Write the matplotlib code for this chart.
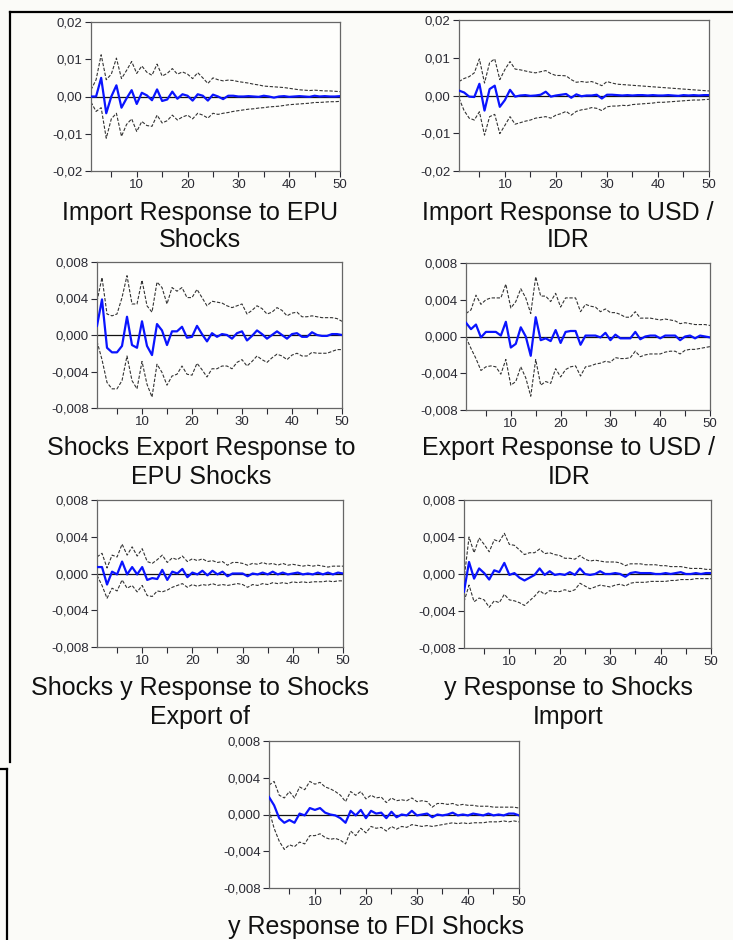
import matplotlib
matplotlib.use("Agg")
import matplotlib.pyplot as plt
from matplotlib.lines import Line2D
from matplotlib.ticker import FuncFormatter
import numpy as np

plt.rcParams['font.family'] = ['Liberation Sans', 'DejaVu Sans']

periods = np.arange(1, 51)

# --- Import response to EPU shocks
imp_epu_resp = [0, 0, 0.005, -0.0045, 0.0, 0.003, -0.003, -0.0005, 0.0017, -0.002,
                0.001, 0.0003, -0.001, 0.0019, -0.0012, -0.0008, 0.0013, -0.0006, 0.0006, 0.0002,
                -0.0011, 0.0006, 0.0002, -0.0011, 0.0005, 0.0, -0.0007, 0.0002, 0.0002, 0.0,
                0, 0.0001, 0, -0.0001, 0.0002, 0, -0.0003, 0, 0.0001, -0.0001,
                0, 0.0001, 0, -0.0001, 0.0002, 0, 0.0001, 0, 0, 0.0001]
imp_epu_up = [0.0018, 0.0045, 0.0112, 0.0045, 0.0060, 0.0103, 0.0048, 0.0070, 0.0094, 0.0062,
              0.0082, 0.0065, 0.0057, 0.0087, 0.0055, 0.0062, 0.0075, 0.0060, 0.0066, 0.0060,
              0.0048, 0.0064, 0.0050, 0.0035, 0.0050, 0.0045, 0.0042, 0.0044, 0.0043, 0.0040,
              0.0038, 0.0036, 0.0033, 0.0031, 0.0028, 0.0027, 0.0026, 0.0025, 0.0024, 0.0022,
              0.0020, 0.0018, 0.0017, 0.0016, 0.0017, 0.0016, 0.0015, 0.0015, 0.0014, 0.0013]
imp_epu_lo = [-0.0015, -0.0040, -0.0030, -0.0112, -0.0060, -0.0045, -0.0107, -0.0075, -0.0060, -0.0094,
              -0.0067, -0.0078, -0.0080, -0.0050, -0.0071, -0.0065, -0.0050, -0.0063, -0.0055, -0.0050,
              -0.0060, -0.0045, -0.0050, -0.0058, -0.0045, -0.0048, -0.0045, -0.0043, -0.0040, -0.0038,
              -0.0036, -0.0034, -0.0033, -0.0031, -0.0030, -0.0028, -0.0027, -0.0026, -0.0024, -0.0022,
              -0.0021, -0.0020, -0.0019, -0.0018, -0.0016, -0.0016, -0.0015, -0.0014, -0.0014, -0.0013]

# --- Import response to USD / IDR
imp_usd_resp = [0.0013, 0.0008, -0.0003, -0.0004, 0.0031, -0.0040, 0.0017, 0.0026, -0.0030, -0.0012,
                0.0015, -0.0003, 0.0, 0.0001, -0.0001, 0.0, 0.0002, 0.0010, -0.0003, 0.0,
                0.0002, 0.0004, -0.0006, 0.0003, -0.0002, 0.0, 0.0, 0.0002, -0.0008, 0.0002,
                0.0002, 0.0001, 0.0, 0.0001, 0.0, 0.0001, 0.0001, 0.0, 0.0001, 0.0,
                0.0, 0.0001, 0.0, -0.0001, 0.0001, 0.0, 0.0001, 0.0, 0.0001, 0.0001]
imp_usd_up = [0.0037, 0.0045, 0.0050, 0.0060, 0.0097, 0.0033, 0.0087, 0.0097, 0.0042, 0.0069,
              0.0090, 0.0070, 0.0068, 0.0065, 0.0062, 0.0060, 0.0063, 0.0066, 0.0058, 0.0053,
              0.0053, 0.0052, 0.0042, 0.0035, 0.0037, 0.0035, 0.0037, 0.0032, 0.0026, 0.0037,
              0.0033, 0.0030, 0.0029, 0.0028, 0.0027, 0.0026, 0.0025, 0.0024, 0.0023, 0.0022,
              0.0021, 0.0020, 0.0019, 0.0018, 0.0017, 0.0016, 0.0015, 0.0014, 0.0013, 0.0012]
imp_usd_lo = [-0.0007, -0.0040, -0.0060, -0.0065, -0.0043, -0.0105, -0.0056, -0.0050, -0.0101, -0.0079,
              -0.0056, -0.0076, -0.0072, -0.0068, -0.0065, -0.0060, -0.0058, -0.0056, -0.0060, -0.0052,
              -0.0048, -0.0042, -0.0052, -0.0042, -0.0038, -0.0036, -0.0032, -0.0034, -0.0040, -0.0030,
              -0.0028, -0.0028, -0.0026, -0.0027, -0.0024, -0.0023, -0.0022, -0.0021, -0.0020, -0.0018,
              -0.0018, -0.0017, -0.0016, -0.0015, -0.0014, -0.0013, -0.0012, -0.0012, -0.0011, -0.0010]

# --- Export response to EPU shocks
exp_epu_resp = [0.0010, 0.0039, -0.0014, -0.0019, -0.0019, -0.0012, 0.0020, -0.0011, -0.0014, 0.0015,
                -0.0012, -0.0022, 0.0012, 0.0005, -0.0011, 0.0004, 0.0004, 0.0009, -0.0003, -0.0002,
                0.0010, 0.0001, -0.0007, 0.0002, -0.0002, 0.0001, 0.0, -0.0004, 0.0002, 0.0004,
                -0.0006, -0.0001, 0.0005, 0.0001, -0.0004, 0.0, 0.0004, 0.0, -0.0004, 0.0001,
                0.0002, -0.0002, -0.0002, 0.0003, 0.0, -0.0001, -0.0001, 0.0001, 0.0001, 0.0]
exp_epu_up = [0.0037, 0.0063, 0.0023, 0.0021, 0.0023, 0.0041, 0.0065, 0.0034, 0.0034, 0.0060,
              0.0032, 0.0025, 0.0058, 0.0052, 0.0034, 0.0052, 0.0048, 0.0052, 0.0041, 0.0041,
              0.0050, 0.0041, 0.0032, 0.0037, 0.0036, 0.0035, 0.0032, 0.0030, 0.0032, 0.0034,
              0.0023, 0.0027, 0.0032, 0.0029, 0.0023, 0.0025, 0.0030, 0.0027, 0.0021, 0.0024,
              0.0025, 0.0020, 0.0020, 0.0021, 0.0020, 0.0019, 0.0019, 0.0019, 0.0018, 0.0015]
exp_epu_lo = [-0.0007, -0.0027, -0.0052, -0.0059, -0.0059, -0.0050, -0.0023, -0.0050, -0.0059, -0.0029,
              -0.0054, -0.0068, -0.0032, -0.0041, -0.0055, -0.0045, -0.0043, -0.0034, -0.0043, -0.0044,
              -0.0031, -0.0038, -0.0046, -0.0037, -0.0037, -0.0034, -0.0034, -0.0037, -0.0030, -0.0027,
              -0.0034, -0.0029, -0.0023, -0.0027, -0.0030, -0.0025, -0.0021, -0.0023, -0.0027, -0.0022,
              -0.0020, -0.0023, -0.0023, -0.0019, -0.0020, -0.0020, -0.0020, -0.0018, -0.0016, -0.0016]

# --- Export response to USD / IDR
exp_usd_resp = [0.0015, 0.0008, 0.0013, -0.0001, 0.0005, 0.0005, 0.0005, 0.0001, 0.0016, -0.0012,
                -0.0008, 0.0010, 0.0, -0.0021, 0.0021, -0.0004, -0.0002, -0.0005, 0.0007, -0.0007,
                0.0005, 0.0006, 0.0006, -0.0009, 0.0001, 0.0001, 0.0001, -0.0001, 0.0004, -0.0004,
                0.0002, -0.0002, -0.0002, -0.0002, 0.0005, -0.0003, 0.0, 0.0001, 0.0001, -0.0002,
                0.0001, 0.0001, 0.0001, -0.0004, 0.0, 0.0001, -0.0002, 0.0001, 0.0, -0.0001]
exp_usd_up = [0.0025, 0.0029, 0.0045, 0.0035, 0.0040, 0.0042, 0.0042, 0.0042, 0.0057, 0.0031,
              0.0038, 0.0052, 0.0042, 0.0025, 0.0065, 0.0044, 0.0044, 0.0038, 0.0047, 0.0032,
              0.0042, 0.0042, 0.0042, 0.0027, 0.0035, 0.0033, 0.0032, 0.0027, 0.0030, 0.0026,
              0.0026, 0.0024, 0.0021, 0.0021, 0.0027, 0.0020, 0.0020, 0.0020, 0.0019, 0.0018,
              0.0019, 0.0018, 0.0017, 0.0014, 0.0015, 0.0014, 0.0013, 0.0013, 0.0013, 0.0012]
exp_usd_lo = [-0.0001, -0.0013, -0.0024, -0.0037, -0.0033, -0.0032, -0.0033, -0.0041, -0.0025, -0.0053,
              -0.0049, -0.0033, -0.0045, -0.0065, -0.0025, -0.0053, -0.0049, -0.0051, -0.0035, -0.0044,
              -0.0036, -0.0033, -0.0032, -0.0043, -0.0033, -0.0032, -0.0030, -0.0029, -0.0027, -0.0028,
              -0.0023, -0.0024, -0.0024, -0.0023, -0.0016, -0.0022, -0.0020, -0.0019, -0.0019, -0.0019,
              -0.0017, -0.0016, -0.0016, -0.0019, -0.0015, -0.0014, -0.0014, -0.0013, -0.0012, -0.0011]

# --- y response to export shocks
y_exp_resp = [0.0007, 0.0007, -0.0012, 0.0002, -0.0001, 0.0013, -0.0001, 0.0007, -0.0001, 0.0007,
              -0.0007, -0.0005, -0.0006, 0.0004, -0.0007, 0.0002, 0.0, 0.0005, -0.0004, 0.0001,
              -0.0001, 0.0003, -0.0002, 0.0003, -0.0001, 0.0002, -0.0003, 0.0, 0.0, 0.0,
              -0.0003, 0.0, -0.0001, 0.0001, -0.0001, 0.0002, -0.0001, 0.0001, -0.0001, 0.0,
              0.0001, -0.0001, 0.0, -0.0001, 0.0001, -0.0001, 0.0001, -0.0001, 0.0001, 0.0]
y_exp_up = [0.0018, 0.0022, 0.0006, 0.0020, 0.0018, 0.0032, 0.0020, 0.0029, 0.0019, 0.0027,
            0.0013, 0.0011, 0.0015, 0.0020, 0.0012, 0.0017, 0.0015, 0.0019, 0.0013, 0.0016,
            0.0014, 0.0016, 0.0013, 0.0014, 0.0012, 0.0013, 0.0009, 0.0012, 0.0012, 0.0011,
            0.0009, 0.0011, 0.0010, 0.0012, 0.0010, 0.0011, 0.0009, 0.0011, 0.0009, 0.0010,
            0.0009, 0.0008, 0.0009, 0.0008, 0.0009, 0.0008, 0.0007, 0.0008, 0.0008, 0.0008]
y_exp_lo = [-0.0002, -0.0013, -0.0027, -0.0016, -0.0019, -0.0007, -0.0016, -0.0013, -0.0020, -0.0013,
            -0.0024, -0.0025, -0.0019, -0.0020, -0.0018, -0.0015, -0.0013, -0.0011, -0.0015, -0.0012,
            -0.0014, -0.0012, -0.0013, -0.0011, -0.0013, -0.0012, -0.0013, -0.0012, -0.0011, -0.0012,
            -0.0015, -0.0012, -0.0013, -0.0011, -0.0012, -0.0010, -0.0011, -0.0010, -0.0011, -0.0009,
            -0.0010, -0.0009, -0.0010, -0.0009, -0.0009, -0.0009, -0.0008, -0.0009, -0.0008, -0.0008]

# --- y response to import shocks
y_imp_resp = [-0.0019, 0.0013, -0.0005, 0.0006, 0.0001, -0.0006, 0.0004, 0.0002, 0.0012, -0.0001,
              0.0001, -0.0004, -0.0007, -0.0004, -0.0001, 0.0006, -0.0001, 0.0003, -0.0001, 0.0,
              -0.0001, 0.0002, -0.0001, 0.0006, 0.0, -0.0001, 0.0, 0.0003, 0.0, 0.0,
              0.0001, 0.0, -0.0003, 0.0001, 0.0002, 0.0001, 0.0001, 0.0001, 0.0, 0.0,
              0.0001, 0.0, 0.0001, 0.0002, 0.0, 0.0, 0.0001, 0.0, 0.0001, 0.0001]
y_imp_up = [-0.0006, 0.0040, 0.0023, 0.0039, 0.0032, 0.0024, 0.0037, 0.0035, 0.0044, 0.0032,
            0.0031, 0.0026, 0.0021, 0.0023, 0.0023, 0.0027, 0.0022, 0.0023, 0.0021, 0.0020,
            0.0017, 0.0017, 0.0016, 0.0020, 0.0016, 0.0014, 0.0015, 0.0014, 0.0013, 0.0013,
            0.0013, 0.0012, 0.0009, 0.0011, 0.0011, 0.0011, 0.0010, 0.0010, 0.0010, 0.0009,
            0.0009, 0.0008, 0.0008, 0.0008, 0.0007, 0.0006, 0.0006, 0.0006, 0.0005, 0.0005]
y_imp_lo = [-0.0030, -0.0012, -0.0030, -0.0026, -0.0028, -0.0036, -0.0029, -0.0031, -0.0022, -0.0028,
            -0.0029, -0.0031, -0.0034, -0.0029, -0.0024, -0.0018, -0.0022, -0.0018, -0.0019, -0.0019,
            -0.0017, -0.0019, -0.0017, -0.0010, -0.0013, -0.0016, -0.0014, -0.0012, -0.0013, -0.0014,
            -0.0012, -0.0011, -0.0013, -0.0010, -0.0009, -0.0009, -0.0009, -0.0008, -0.0008, -0.0008,
            -0.0008, -0.0007, -0.0007, -0.0006, -0.0006, -0.0006, -0.0005, -0.0005, -0.0005, -0.0005]

# --- y response to FDI shocks
y_fdi_resp = [0.0019, 0.0010, -0.0004, -0.0009, -0.0006, -0.0009, 0.0001, -0.0001, 0.0007, 0.0005,
              0.0007, 0.0002, 0.0, -0.0001, -0.0004, -0.0009, 0.0004, -0.0001, 0.0005, -0.0004,
              0.0004, 0.0001, 0.0002, -0.0004, 0.0003, -0.0003, 0.0, -0.0001, 0.0004, -0.0001,
              0.0, 0.0001, -0.0003, 0.0, -0.0001, 0.0, 0.0002, -0.0001, 0.0, -0.0001,
              0.0001, 0.0, -0.0001, 0.0001, -0.0001, 0.0, -0.0001, 0.0001, 0.0001, -0.0001]
y_fdi_up = [0.0032, 0.0036, 0.0021, 0.0018, 0.0025, 0.0018, 0.0030, 0.0027, 0.0036, 0.0033,
            0.0035, 0.0030, 0.0028, 0.0025, 0.0021, 0.0014, 0.0025, 0.0021, 0.0025, 0.0017,
            0.0021, 0.0018, 0.0019, 0.0013, 0.0018, 0.0015, 0.0016, 0.0015, 0.0018, 0.0014,
            0.0015, 0.0014, 0.0008, 0.0012, 0.0012, 0.0011, 0.0012, 0.0010, 0.0011, 0.0010,
            0.0010, 0.0009, 0.0009, 0.0009, 0.0008, 0.0008, 0.0008, 0.0008, 0.0008, 0.0007]
y_fdi_lo = [0.0005, -0.0015, -0.0029, -0.0038, -0.0033, -0.0035, -0.0030, -0.0032, -0.0023, -0.0023,
            -0.0021, -0.0025, -0.0027, -0.0026, -0.0028, -0.0032, -0.0018, -0.0023, -0.0015, -0.0020,
            -0.0013, -0.0015, -0.0014, -0.0018, -0.0013, -0.0016, -0.0013, -0.0014, -0.0011, -0.0012,
            -0.0013, -0.0012, -0.0013, -0.0012, -0.0011, -0.0010, -0.0009, -0.0010, -0.0009, -0.0010,
            -0.0009, -0.0009, -0.0009, -0.0008, -0.0008, -0.0008, -0.0007, -0.0008, -0.0007, -0.0008]

titles = [["Import Response to EPU", "Shocks"],
          ["Import Response to USD /", "IDR"],
          ["Shocks Export Response to", "EPU Shocks"],
          ["Export Response to USD /", "IDR"],
          ["Shocks y Response to Shocks", "Export of"],
          ["y Response to Shocks", "Import"],
          ["y Response to FDI Shocks"]]

W, H = 733, 940
fig = plt.figure(figsize=(W / 100, H / 100), dpi=100)
fig.patch.set_facecolor('#fbfbf8')

def px_axes(l, r, t, b):
    return fig.add_axes([l / W, 1 - b / H, (r - l) / W, (b - t) / H])

def fmt2(v, p):
    return ("%.2f" % v).replace('.', ',').replace('-0,00', '0,00')

def fmt3(v, p):
    return ("%.3f" % v).replace('.', ',').replace('-0,000', '0,000')

# (left, right, top, bottom) in pixels, y-limit, title centre x, title line ys
panels = [
    ((91, 340, 22, 171), 0.02, 200, [213, 240], imp_epu_resp, imp_epu_up, imp_epu_lo),
    ((459, 709, 20, 171), 0.02, 568, [213, 240], imp_usd_resp, imp_usd_up, imp_usd_lo),
    ((97, 342, 262, 408), 0.008, 201, [448, 477], exp_epu_resp, exp_epu_up, exp_epu_lo),
    ((466, 710, 263, 410), 0.008, 569, [448, 477], exp_usd_resp, exp_usd_up, exp_usd_lo),
    ((97, 343, 500, 647), 0.008, 200, [688, 717], y_exp_resp, y_exp_up, y_exp_lo),
    ((464, 711, 500, 648), 0.008, 568, [688, 717], y_imp_resp, y_imp_up, y_imp_lo),
    ((269, 519, 741, 888), 0.008, 376, [927], y_fdi_resp, y_fdi_up, y_fdi_lo),
]

for i, (box, lim, tx, tys, resp, up, lo) in enumerate(panels):
    ax = px_axes(*box)
    ax.set_facecolor('#fefefc')
    ax.axhline(0, color='#111111', lw=0.9, zorder=1)
    ax.plot(periods, up, color='#333333', lw=0.8, ls=(0, (3, 1.5)), zorder=2)
    ax.plot(periods, lo, color='#333333', lw=0.8, ls=(0, (3, 1.5)), zorder=2)
    ax.plot(periods, resp, color='#0a14ff', lw=1.6, zorder=3)
    ax.set_xlim(1, 50)
    ax.set_ylim(-lim, lim)
    ax.set_yticks(np.linspace(-lim, lim, 5))
    ax.yaxis.set_major_formatter(FuncFormatter(fmt2 if lim > 0.015 else fmt3))
    ax.set_xticks(range(5, 51, 5))
    ax.set_xticklabels(['' if k % 10 else str(k) for k in range(5, 51, 5)])
    ax.tick_params(labelsize=9.5, colors='#2a2a33', length=4, width=0.8, pad=2)
    for s in ax.spines.values():
        s.set_color('#666666')
        s.set_linewidth(0.9)
    for line, ty in zip(titles[i], tys):
        fig.text(tx / W, 1 - ty / H, line, ha='center', va='center', fontsize=18, color='#111111')

# page frame lines from the scanned document
fig.add_artist(Line2D([10 / W, 1], [1 - 11.5 / H, 1 - 11.5 / H], color='black', lw=1.6))
fig.add_artist(Line2D([10 / W, 10 / W], [1 - 11.5 / H, 1 - 762 / H], color='black', lw=1.6))
fig.add_artist(Line2D([0, 7 / W], [1 - 769 / H, 1 - 769 / H], color='black', lw=1.6))
fig.add_artist(Line2D([7 / W, 7 / W], [1 - 769 / H, 0], color='black', lw=1.6))

fig.savefig('out.png', dpi=100, facecolor=fig.get_facecolor())
